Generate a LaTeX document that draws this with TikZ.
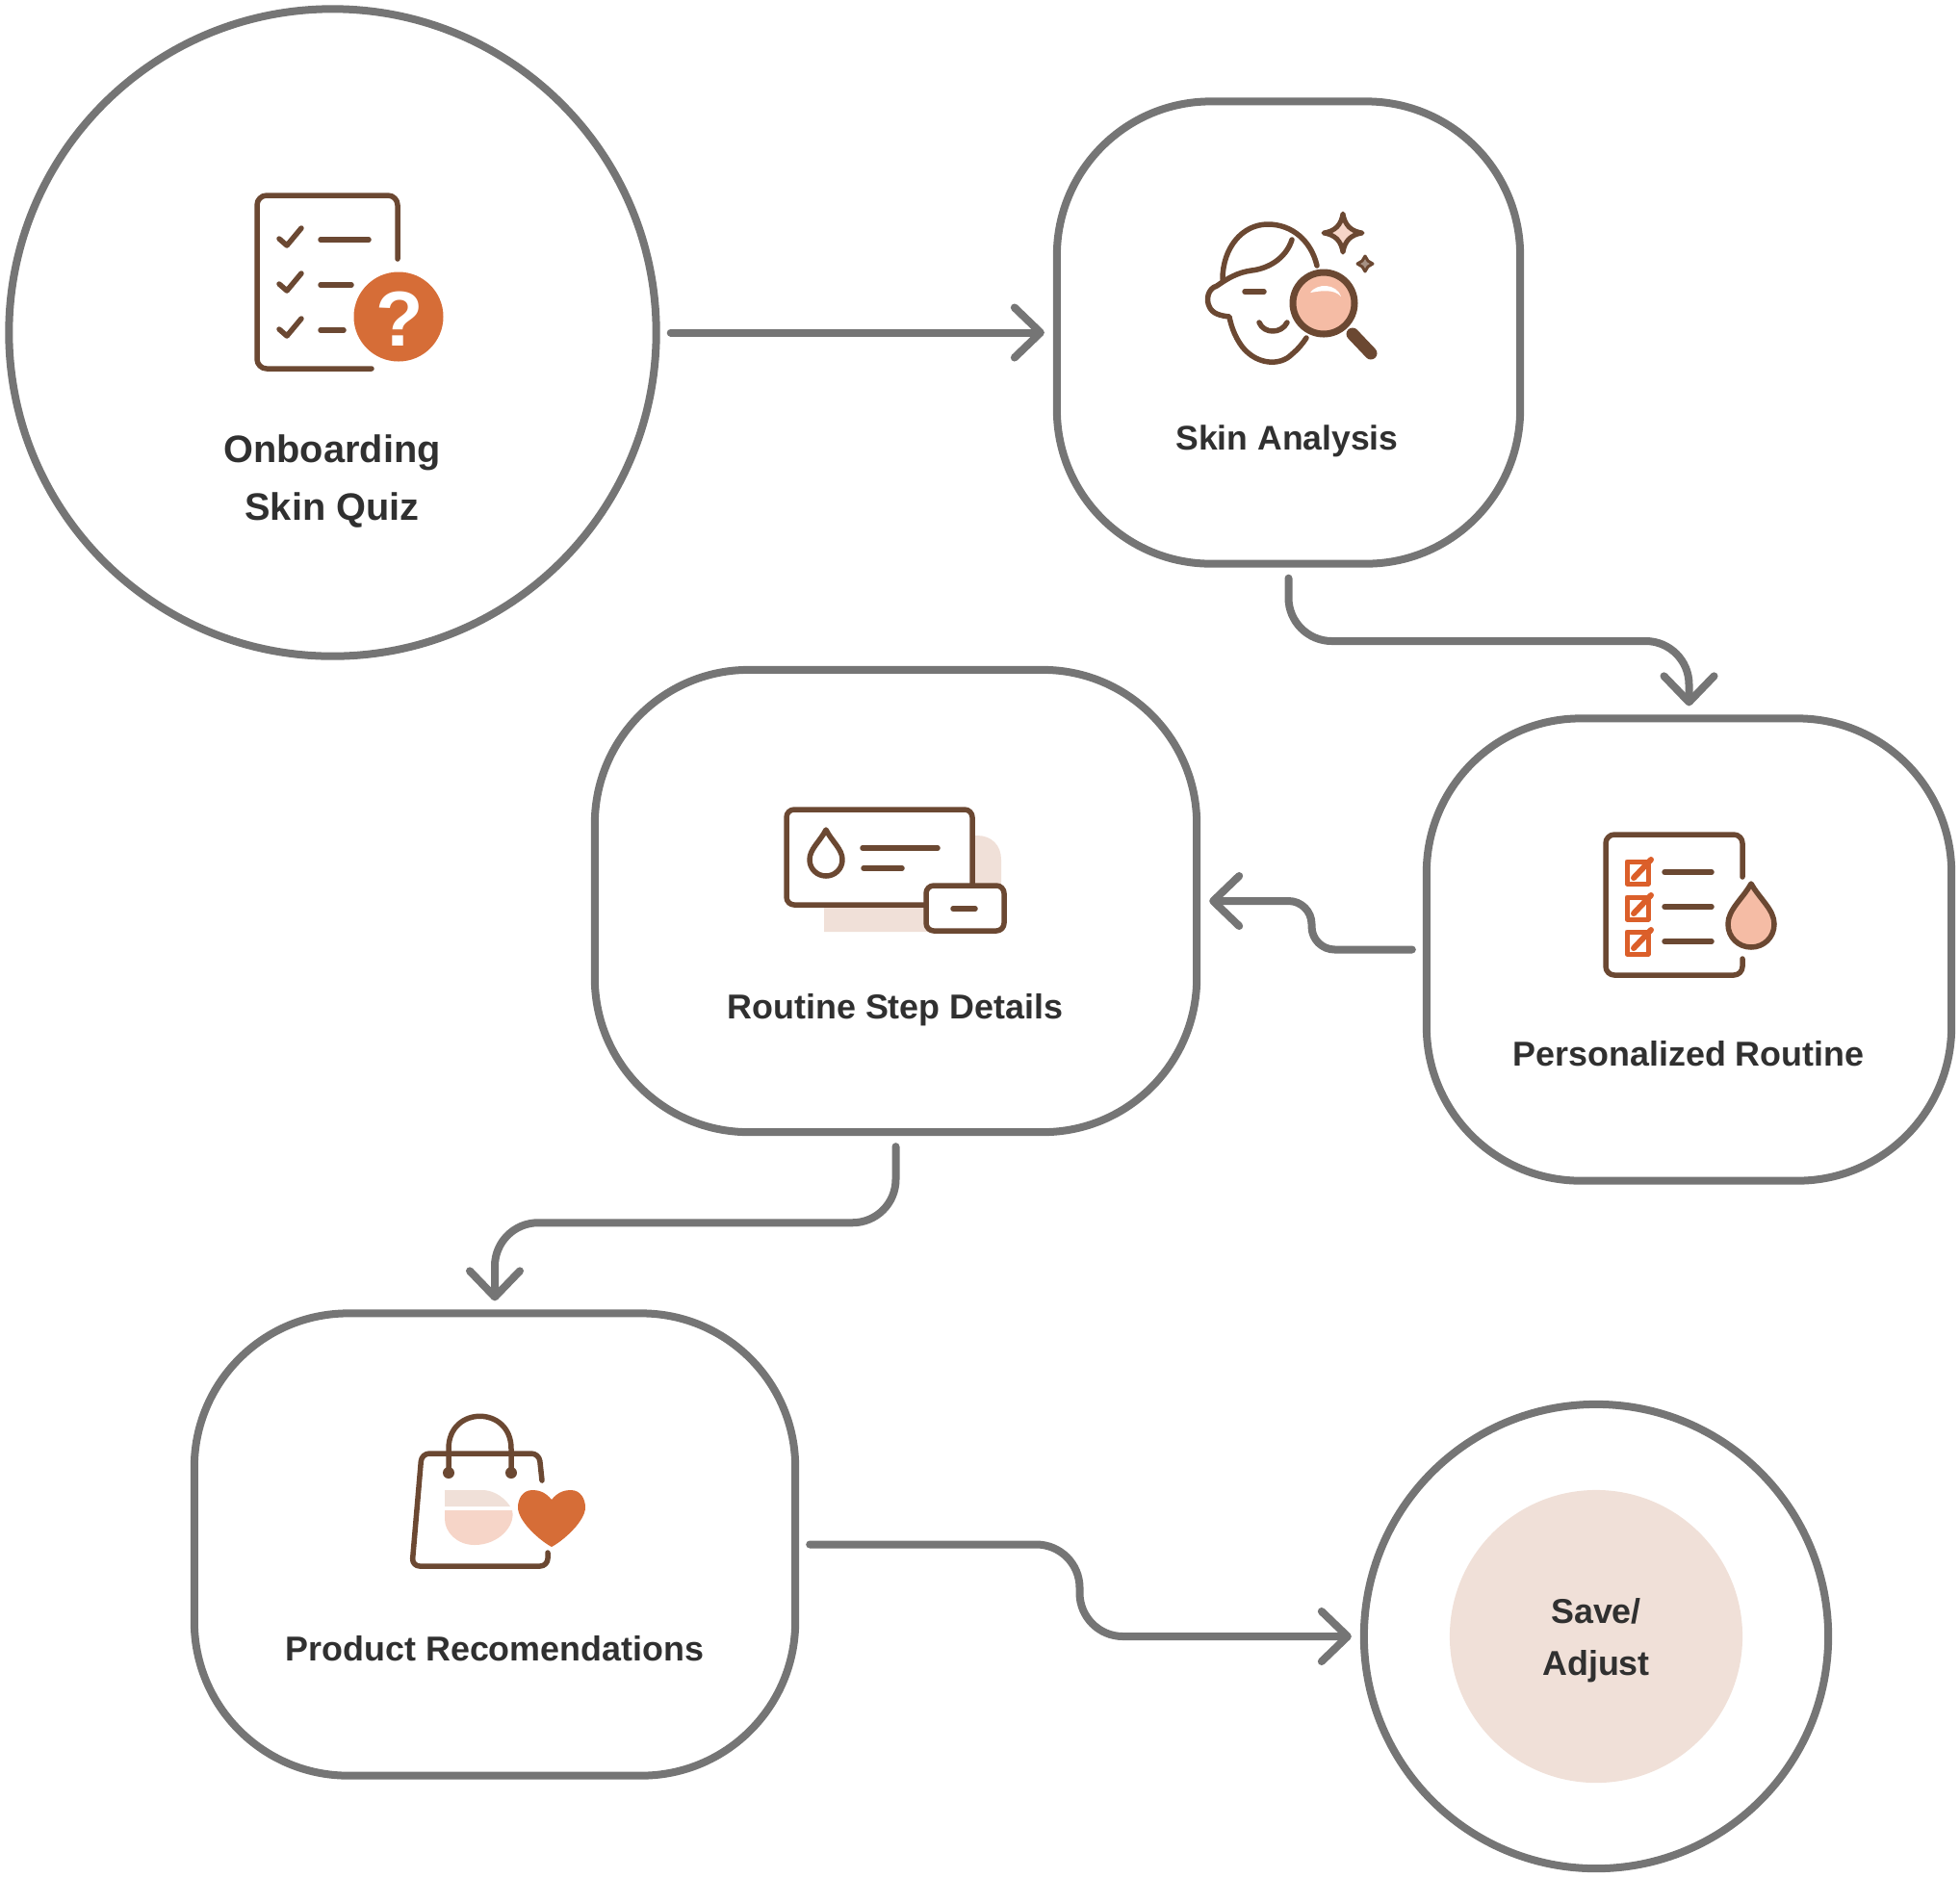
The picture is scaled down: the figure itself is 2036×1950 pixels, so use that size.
\documentclass[tikz,border=0pt]{standalone}
\usepackage{fontspec}
\setmainfont{Liberation Sans}
\usetikzlibrary{arrows.meta, calc}
\definecolor{flowgray}{RGB}{117, 117, 117}
\definecolor{labeldark}{RGB}{48, 48, 48}
\definecolor{iconbrown}{RGB}{107, 72, 50}
\definecolor{iconorange}{RGB}{214, 109, 55}
\definecolor{checkorange}{RGB}{219, 95, 42}
\definecolor{iconpeach}{RGB}{245, 188, 165}
\definecolor{iconpale}{RGB}{240, 224, 216}
\definecolor{iconblush}{RGB}{246, 213, 200}
\tikzset{
  stepbox/.style={rectangle, rounded corners=1.6cm, draw=flowgray, line width=0.08cm,
                  minimum width=#1, minimum height=4.8cm, inner sep=0pt, outer sep=0.13cm},
  stepbox/.default=4.81cm,
  stepcircle/.style={circle, draw=flowgray, line width=0.08cm,
                     minimum size=#1, inner sep=0pt, outer sep=0.13cm},
  steplabel/.style={align=center, inner sep=0pt, text=labeldark, font=\fontsize{10.2}{12}\selectfont\bfseries},
  flow/.style={-{Straight Barb[length=0.27cm, width=0.52cm, round]}, line width=0.08cm,
               color=flowgray, line cap=round, shorten <=0.02cm},
  iconline/.style={draw=iconbrown, line width=0.055cm, line cap=round, line join=round},
  checkline/.style={draw=checkorange, line width=0.05cm, line join=round},
}
\begin{document}
\begin{tikzpicture}[x=0.01cm, y=-0.01cm]
  \useasboundingbox (0,0) rectangle (2036,1950);

  \node[stepcircle=6.72cm] (quiz) at (345.5,345.5) {};
  \node[stepbox] (skin) at (1338.5,345.5) {};
  \node[stepbox=5.45cm] (routine) at (1754.5,986.5) {};
  \node[stepbox=6.25cm] (details) at (930.5,936) {};
  \node[stepbox=6.24cm] (product) at (514,1604.5) {};
  \node[stepcircle=4.82cm] (save) at (1658,1700) {};
  \node[circle, fill=iconpale, minimum size=3.04cm, inner sep=0pt] (savedisc) at (save) {};

  \node[steplabel, font=\fontsize{11.3}{17}\selectfont\bfseries] (quizlabel) at (345,500) {Onboarding\\Skin Quiz};
  \node[steplabel, font=\fontsize{10.1}{12}\selectfont\bfseries] (skinlabel) at (1337,458) {Skin Analysis};
  \node[steplabel] (routinelabel) at (1754,1095) {Personalized Routine};
  \node[steplabel] (detailslabel) at (930,1049) {Routine Step Details};
  \node[steplabel] (productlabel) at (514,1713) {Product Recomendations};
  \node[steplabel, font=\fontsize{10.2}{15.4}\selectfont\bfseries] (savelabel) at (1658,1704) {Save/\\Adjust};

  \coordinate (skinbend) at ($(skin.south)!0.5!(routine.north)$);
  \coordinate (routinebend) at ($(routine.west)!0.5!(details.east)$);
  \coordinate (detailsbend) at ($(details.south)!0.5!(product.north)$);
  \coordinate (productbend) at ($(product.east)!0.5!(save.west)$);

  \draw[flow] (quiz.east) -- (skin.west);
  \draw[flow, rounded corners=0.45cm] (skin.south) -- (skin.south |- skinbend) -- (routine.north |- skinbend) -- (routine.north);
  \draw[flow, rounded corners=0.24cm] (routine.west) -- (routine.west -| routinebend) -- (details.east -| routinebend) -- (details.east);
  \draw[flow, rounded corners=0.45cm] (details.south) -- (details.south |- detailsbend) -- (product.north |- detailsbend) -- (product.north);
  \draw[flow, rounded corners=0.45cm] (product.east) -- (product.east -| productbend) -- (save.west -| productbend) -- (save.west);

  % quiz icon
  \draw[iconline, rounded corners=0.1cm] (413,269) -- (413,203) -- (267,203) -- (267,383) -- (386,383);
  \foreach \ya/\lx in {249/383, 296/365, 343/357} {
    \draw[iconline] (290,\ya-1) -- (298,\ya+6) -- (313,\ya-12);
    \draw[iconline] (333,\ya) -- (\lx,\ya);
  }
  \fill[iconorange] (414,329) circle[radius=46.5];
  \node[inner sep=0pt, text=white, font=\fontsize{23}{25}\selectfont\bfseries] (quizmark) at (415,331) {?};

  % skin icon
  \draw[iconline] (1368,276) .. controls (1362,250) and (1342,233) .. (1317,233)
    .. controls (1290,233) and (1270,258) .. (1270,290);
  \draw[iconline] (1342,249) .. controls (1336,268) and (1318,279) .. (1300,281)
    .. controls (1285,283) and (1274,290) .. (1264,297)
    .. controls (1254,300) and (1253,312) .. (1256,318)
    .. controls (1259,326) and (1268,328) .. (1277,329)
    .. controls (1280,345) and (1288,360) .. (1297,367)
    .. controls (1310,378) and (1330,380) .. (1342,368)
    .. controls (1349,362) and (1353,357) .. (1357,351);
  \draw[iconline] (1293,303) -- (1313,303);
  \draw[iconline] (1308,335) .. controls (1313,347) and (1331,347) .. (1337,335);
  \draw[iconline, line width=0.13cm] (1405,347) -- (1424,367);
  \draw[iconline, line width=0.07cm, fill=iconpeach] (1375,315) circle[radius=32];
  \fill[white] (1361,304) .. controls (1368,294) and (1388,294) .. (1393,308)
    .. controls (1386,300) and (1372,302) .. (1361,304) -- cycle;
  \draw[iconbrown, line width=0.05cm, fill=iconblush, line join=round] (1395,222) .. controls (1397,234) and (1403,240) .. (1415,242)
    .. controls (1403,244) and (1397,250) .. (1395,262)
    .. controls (1393,250) and (1387,244) .. (1375,242)
    .. controls (1387,240) and (1393,234) .. (1395,222) -- cycle;
  \draw[iconbrown, line width=0.03cm, fill=iconbrown!60, line join=round] (1418,266) -- (1421,271) -- (1426,274) -- (1421,277)
    -- (1418,282) -- (1415,277) -- (1410,274) -- (1415,271) -- cycle;

  % details icon
  \fill[iconpale] (856,968) -- (856,868) -- (1015,868) .. controls (1030,868) and (1040,878) .. (1040,893) -- (1040,968) -- cycle;
  \draw[iconline, fill=white, rounded corners=0.08cm] (817,841) rectangle (1010,940);
  \draw[iconline, fill=white, rounded corners=0.08cm] (962,920) rectangle (1043,967);
  \draw[iconline] (990,944) -- (1013,944);
  \draw[iconline] (858,862) .. controls (852,874) and (841,882) .. (841,893)
    .. controls (841,903) and (849,910) .. (858,910)
    .. controls (867,910) and (875,903) .. (875,893)
    .. controls (875,882) and (864,874) .. (858,862) -- cycle;
  \draw[iconline] (896,881) -- (974,881);
  \draw[iconline] (897,902) -- (937,902);

  % routine icon
  \draw[iconline, rounded corners=0.09cm] (1810,911) -- (1810,867) -- (1668,867) -- (1668,1013) -- (1810,1013) -- (1810,996);
  \foreach \yb in {895, 932, 968} {
    \draw[checkline] (1690,\yb) rectangle (1712,\yb+23);
    \draw[checkline, line width=0.06cm, line cap=round] (1697,\yb+17) -- (1715,\yb-2);
  }
  \foreach \yl in {906, 942, 978} {
    \draw[iconline] (1729,\yl) -- (1778,\yl);
  }
  \draw[iconline, fill=iconpeach] (1819,918) .. controls (1810,934) and (1795,945) .. (1795,960)
    .. controls (1795,974) and (1806,984) .. (1819,984)
    .. controls (1832,984) and (1843,974) .. (1843,960)
    .. controls (1843,945) and (1828,934) .. (1819,918) -- cycle;

  % product icon
  \draw[iconline, rounded corners=0.08cm] (563,1538) -- (560,1510) -- (438,1510) -- (428,1627) -- (569,1627) -- (569,1613);
  \draw[iconline] (466,1530) -- (466,1505) .. controls (466,1460) and (531,1460) .. (531,1505) -- (531,1530);
  \fill[iconbrown] (466,1530) circle[radius=6] (531,1530) circle[radius=6];
  \fill[iconpale] (462,1548) -- (503,1548) .. controls (515,1549) and (525,1557) .. (530,1565) -- (462,1565) -- cycle;
  \fill[iconblush] (462,1569) -- (532,1569) .. controls (536,1585) and (518,1605) .. (493,1605)
    .. controls (475,1605) and (462,1592) .. (462,1578) -- cycle;
  \fill[iconorange] (573,1558) .. controls (566,1549) and (558,1548) .. (553,1548)
    .. controls (543,1548) and (538,1557) .. (538,1566)
    .. controls (538,1580) and (560,1600) .. (573,1607)
    .. controls (586,1600) and (608,1580) .. (608,1566)
    .. controls (608,1557) and (603,1548) .. (593,1548)
    .. controls (588,1548) and (580,1549) .. (573,1558) -- cycle;
\end{tikzpicture}
\end{document}
